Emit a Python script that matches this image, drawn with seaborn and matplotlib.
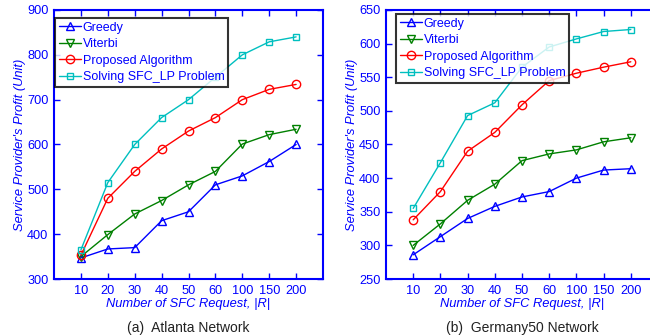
import matplotlib
matplotlib.use("Agg")
import matplotlib.pyplot as plt
import seaborn as sns
import pandas as pd

requests = ["10", "20", "30", "40", "50", "60", "100", "150", "200"]
series_names = ["Greedy", "Viterbi", "Proposed Algorithm", "Solving SFC_LP Problem"]

atlanta_greedy = [347, 367, 370, 430, 450, 510, 530, 562, 600]
atlanta_viterbi = [350, 399, 445, 475, 510, 540, 601, 622, 634]
atlanta_proposed = [353, 480, 540, 590, 630, 660, 700, 723, 734]
atlanta_lp = [365, 515, 600, 660, 700, 750, 800, 829, 840]

germany_greedy = [286, 313, 340, 358, 372, 380, 400, 412, 414]
germany_viterbi = [300, 332, 367, 391, 426, 436, 442, 454, 460]
germany_proposed = [338, 380, 440, 468, 509, 545, 556, 565, 573]
germany_lp = [355, 423, 493, 512, 565, 595, 607, 618, 621]

colors = ["#0000ff", "#008000", "#ff0000", "#00bfbf"]
markers = ["^", "v", "o", "s"]
msizes = [6, 6, 6, 5]

BLUE = "#0000ff"
FONT = ["Liberation Sans", "DejaVu Sans"]

sns.set_theme(style="white")
plt.rcParams["font.family"] = FONT


def make_df(vals):
    rows = []
    for name, v in zip(series_names, vals):
        for i, y in enumerate(v):
            rows.append({"series": name, "pos": i, "value": y})
    return pd.DataFrame(rows)


fig = plt.figure(figsize=(6.5, 3.36), dpi=100)
ax1 = fig.add_axes([54 / 650, 57 / 336, 269 / 650, 269 / 336])
ax2 = fig.add_axes([386 / 650, 57 / 336, 272 / 650, 269 / 336])

panels = [
    (ax1, [atlanta_greedy, atlanta_viterbi, atlanta_proposed, atlanta_lp],
     (300, 900), [300, 400, 500, 600, 700, 800, 900], "(a)  Atlanta Network",
     (0.004, 0.970)),
    (ax2, [germany_greedy, germany_viterbi, germany_proposed, germany_lp],
     (250, 650), [250, 300, 350, 400, 450, 500, 550, 600, 650], "(b)  Germany50 Network",
     (0.037, 0.985)),
]

for ax, vals, ylim, yticks, caption, lpos in panels:
    df = make_df(vals)
    for name, c, m, ms in zip(series_names, colors, markers, msizes):
        sns.lineplot(data=df[df["series"] == name], x="pos", y="value", ax=ax,
                     color=c, marker=m, markersize=ms, mfc="none", mec=c,
                     mew=1.0, linewidth=1.0, label=name, legend=False)
    ax.set_xlim(-1, 9)
    ax.set_ylim(*ylim)
    ax.set_xticks(range(len(requests)))
    ax.set_xticklabels(requests)
    ax.set_yticks(yticks)
    ax.tick_params(direction="in", length=4, width=1, colors=BLUE,
                   labelcolor=BLUE, labelsize=9.2, top=True, right=True,
                   bottom=True, left=True, pad=4)
    for s in ax.spines.values():
        s.set_color(BLUE)
        s.set_linewidth(1.5)
        s.set_visible(True)
    ax.set_xlabel("Number of SFC Request, |R|", color=BLUE, fontsize=9.3,
                  fontstyle="italic", labelpad=1)
    ax.set_ylabel("Service Provider's Profit (Unit)", color=BLUE, fontsize=9.3,
                  fontstyle="italic", labelpad=1)
    handles, labels = ax.get_legend_handles_labels()
    leg = ax.legend(handles, labels, loc="upper left", bbox_to_anchor=lpos,
                    fontsize=9, frameon=True, fancybox=False, handlelength=1.8,
                    handletextpad=0.1, borderpad=0.3, labelspacing=0.35,
                    borderaxespad=0.0)
    leg.get_frame().set_edgecolor("black")
    leg.get_frame().set_linewidth(1.5)
    for t in leg.get_texts():
        t.set_color(BLUE)
    ax.text(0.5, -0.155, caption, transform=ax.transAxes, ha="center",
            va="top", fontsize=10, color="#222222")

fig.savefig("out.png", dpi=100)
